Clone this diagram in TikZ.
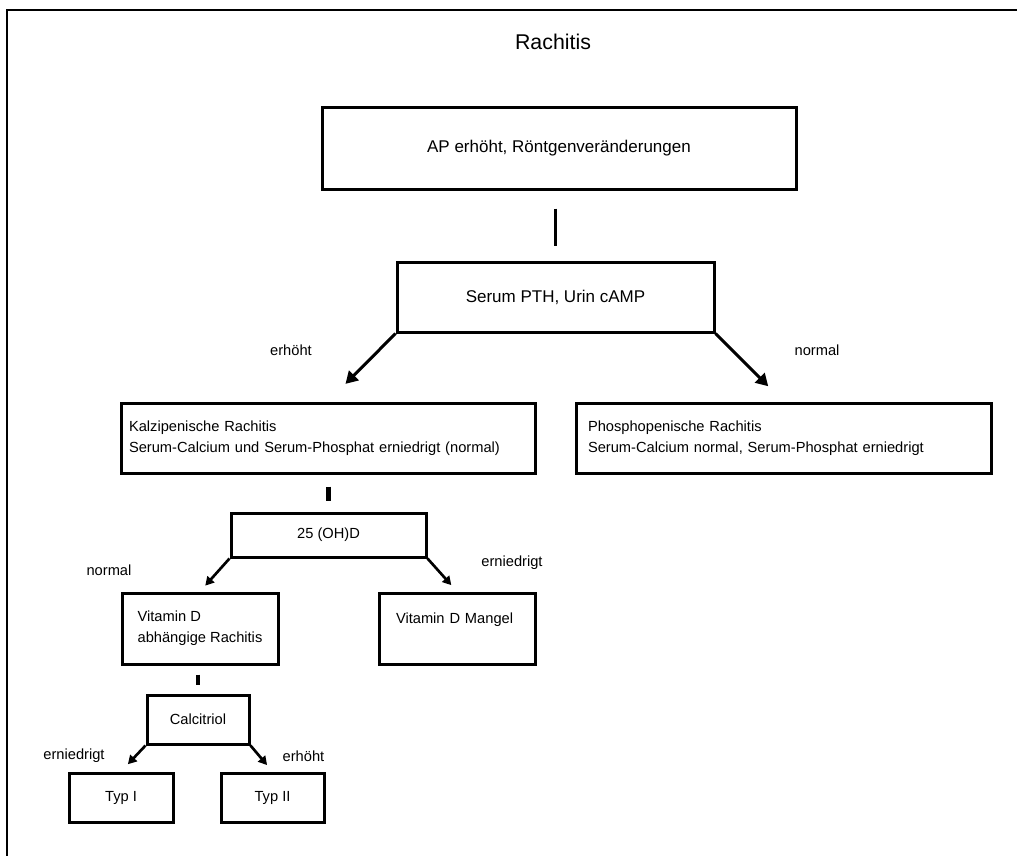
\documentclass[tikz,border=0pt]{standalone}
\usepackage{fontspec}
\setmainfont{Liberation Sans}
\usetikzlibrary{
	arrows.meta,
	positioning
}

\begin{document}
\begin{tikzpicture}[
			x=0.75pt, y=-0.75pt,
			font=\fontsize{11pt}{16pt}\selectfont,
			kasten/.style={
					draw,
					line width=2.25pt,
					inner sep=0pt,
					align=center
				},
			gross/.style={kasten, font=\fontsize{12.75pt}{16pt}\selectfont},
			links/.style={kasten, align=left},
			pfeil/.style={-{Triangle[length=9pt,width=10pt]}, line width=2.25pt},
			kpfeil/.style={-{Triangle[length=6.5pt,width=7pt]}, line width=2pt},
			strich/.style={line width=3.5pt},
			marke/.style={inner sep=0pt}
		]
		\useasboundingbox (0,0) rectangle (1017,856);
		\draw[line width=1.5pt] (1030,10) -- (7,10) -- (7,870);

		\node[marke, font=\fontsize{16pt}{18pt}\selectfont] (titel) at (553,42) {Rachitis};

		\node[gross, minimum width=355.5pt, minimum height=61.5pt] (befund) at (559,148) {AP erhöht, Röntgenveränderungen};
		\node[gross, minimum width=237.75pt, minimum height=52.5pt] (pth) at (555.5,297) {Serum PTH, Urin cAMP};
		\node[links, minimum width=310.5pt, minimum height=52.5pt, inner xsep=6pt, text width=298.5pt] (kalz) at (328,438) {Kalzipenische Rachitis\\ Serum-Calcium und Serum-Phosphat erniedrigt (normal)};
		\node[links, minimum width=311.25pt, minimum height=52.5pt, inner xsep=9pt, text width=293.25pt] (phos) at (783.5,438) {Phosphopenische Rachitis\\ Serum-Calcium normal, Serum-Phosphat erniedrigt};
		\node[kasten, minimum width=146.25pt, minimum height=33pt] (ohd) at (328.5,535) {25 (OH)D};
		\node[links, minimum width=117pt, minimum height=53.25pt] (vitd) at (200,628.5) {Vitamin D\\ abhängige Rachitis};
		\node[links, minimum width=117pt, minimum height=53.25pt, inner xsep=12.75pt, text width=91.5pt] (mangel) at (457,628.5) {Vitamin D Mangel\\ \mbox{}};
		\node[kasten, minimum width=76.5pt, minimum height=36.75pt] (calc) at (198,719.5) {Calcitriol};
		\node[kasten, minimum width=78pt, minimum height=36.75pt] (typa) at (121,797.5) {Typ I};
		\node[kasten, minimum width=77.25pt, minimum height=36.75pt] (typb) at (272.5,797.5) {Typ II};

		\draw[strich, line width=2.25pt, shorten <=13.5pt, shorten >=11.25pt] (pth.north |- befund.south) -- (pth.north);
		\draw[pfeil, shorten >=18.6pt] (pth.south west) -- (kalz.north);
		\draw[pfeil, shorten >=16.2pt] (pth.south east) -- (phos.north);
		\draw[strich, shorten <=9pt, shorten >=8.25pt] (ohd.north |- kalz.south) -- (ohd.north);
		\draw[kpfeil, shorten >=5.9pt] (ohd.south west) -- (vitd.north);
		\draw[kpfeil, shorten >=6.4pt] (ohd.south east) -- (mangel.north);
		\draw[strich, shorten <=6.75pt, shorten >=6.75pt] (calc.north |- vitd.south) -- (calc.north);
		\draw[kpfeil, shorten >=7.5pt] (calc.south west) -- (typa.north);
		\draw[kpfeil, shorten >=6.3pt] (calc.south east) -- (typb.north);

		\node[marke] (l-erhoeht) at (291,350) {erhöht};
		\node[marke] (l-normal) at (817,350) {normal};
		\node[marke] (l-normal2) at (109,570) {normal};
		\node[marke] (l-erniedrigt) at (512,563) {erniedrigt};
		\node[marke] (l-erniedrigt2) at (74,756) {erniedrigt};
		\node[marke] (l-erhoeht2) at (303.5,756) {erhöht};
	\end{tikzpicture}
\end{document}
